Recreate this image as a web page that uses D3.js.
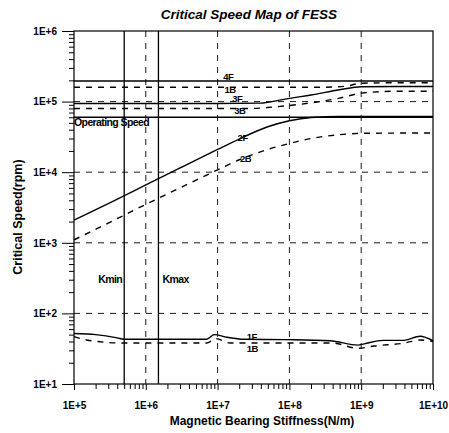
<!DOCTYPE html>
<html>
<head>
<meta charset="utf-8">
<script src="https://cdn.jsdelivr.net/npm/d3@7"></script>
<style>
 body { margin: 0; background: #fff; }
 svg { display: block; font-family: "Liberation Sans", Arial, sans-serif; }
</style>
</head>
<body>
<svg id="chart" width="449" height="433"></svg>
<script>
// tick labels
const xTicks = [1e5, 1e6, 1e7, 1e8, 1e9, 1e10];
const yTicks = [1e1, 1e2, 1e3, 1e4, 1e5, 1e6];

// reference lines
const operatingSpeed = 60000;
const kMin = 5e5;
const kMax = 1.5e6;

// modes: stiffness (N/m) and critical speed (rpm)
const k4F = [1e5, 1e10];
const rpm4F = [196000, 196000];

const k1Bu = [1e5, 1e7, 1e8, 3e8, 6e8, 1e9, 3e9, 1e10];
const rpm1Bu = [160000, 160000, 160000, 160000, 165000, 182000, 185000, 185000];

const k3F = [1e5, 1e7, 4e7, 7e7, 1e8, 2e8, 5e8, 1e9, 3e9, 1e10];
const rpm3F = [94000, 94000, 95000, 104000, 111000, 124000, 147000, 162000, 164000, 164000];

const k3B = [1e5, 1e7, 3e7, 6e7, 1e8, 2e8, 5e8, 1e9, 3e9, 1e10];
const rpm3B = [80000, 80000, 80000, 84000, 88000, 96000, 112000, 132000, 140000, 140000];

const k2F = [1e5, 3e5, 1e6, 3e6, 1e7, 2e7, 5e7, 1e8, 2e8, 5e8, 1e9, 1e10];
const rpm2F = [2100, 3600, 6600, 11500, 21000, 29500, 44000, 53500, 59500, 61500, 61500, 61500];

const k2B = [1e5, 3e5, 1e6, 3e6, 1e7, 2e7, 5e7, 1e8, 2e8, 5e8, 1e9, 1e10];
const rpm2B = [1100, 1900, 3500, 6000, 10800, 15000, 21000, 25500, 30000, 34000, 35500, 36000];

const k1F = [1e5, 2e5, 4e5, 5e5, 7e6, 9e6, 1.35e7, 2.3e7, 9e7, 3.7e8, 9e8, 1.1e9, 2e9, 3.8e9, 6.6e9, 1e10];
const rpm1F = [52, 50, 45, 43, 43, 50, 46, 43, 42.5, 41, 35.5, 37, 41.5, 41.5, 47.5, 41];

const k1B = [1e5, 1.5e5, 5e5, 7e6, 9.5e6, 1.5e7, 1e8, 4e8, 9e8, 1.5e9, 4e9, 6.6e9, 1e10];
const rpm1B = [47, 42, 38, 38, 44, 38, 38, 38, 32, 34.5, 38, 42, 40];

const modes = [
 { k: k4F, rpm: rpm4F, dash: null },
 { k: k1Bu, rpm: rpm1Bu, dash: "6,6" },
 { k: k3F, rpm: rpm3F, dash: null },
 { k: k3B, rpm: rpm3B, dash: "6,6" },
 { k: k2F, rpm: rpm2F, dash: null },
 { k: k2B, rpm: rpm2B, dash: "6,6" },
 { k: k1F, rpm: rpm1F, dash: null },
 { k: k1B, rpm: rpm1B, dash: "6,6" }
];

const modeLabels = [
 { text: "4F", k: 1.2e7, rpm: 203000 },
 { text: "1B", k: 1.25e7, rpm: 133000 },
 { text: "3F", k: 1.6e7, rpm: 98000 },
 { text: "3B", k: 1.7e7, rpm: 67000 },
 { text: "2F", k: 1.9e7, rpm: 27500 },
 { text: "2B", k: 2.05e7, rpm: 13900 },
 { text: "1F", k: 2.55e7, rpm: 42 },
 { text: "1B", k: 2.55e7, rpm: 28.5 }
];

const svg = d3.select("#chart");
const margin = { left: 74, right: 16, top: 31, bottom: 49 };
const W = 449, H = 433;

const x = d3.scaleLog().domain([1e5, 1e10]).range([margin.left, W - margin.right]);
const y = d3.scaleLog().domain([1e1, 1e6]).range([H - margin.bottom, margin.top]);

const fmt = d => "1E+" + Math.round(Math.log10(d));

// minor ticks 2..9 of each decade
const minors = (lo, hi) => {
 const out = [];
 for (let e = lo; e < hi; e++) for (let m = 2; m <= 9; m++) out.push(m * Math.pow(10, e));
 return out;
};

// grid
const grid = svg.append("g").attr("stroke", "#000").attr("stroke-width", 0.9)
 .attr("stroke-dasharray", "6,6");
grid.selectAll(".gx").data(xTicks.slice(1, -1)).join("line")
 .attr("x1", d => x(d)).attr("x2", d => x(d))
 .attr("y1", y.range()[1]).attr("y2", y.range()[0]);
grid.selectAll(".gy").data(yTicks.slice(1, -1)).join("line")
 .attr("x1", x.range()[0]).attr("x2", x.range()[1])
 .attr("y1", d => y(d)).attr("y2", d => y(d));

// frame
svg.append("rect")
 .attr("x", x.range()[0]).attr("y", y.range()[1])
 .attr("width", x.range()[1] - x.range()[0]).attr("height", y.range()[0] - y.range()[1])
 .attr("fill", "none").attr("stroke", "#000").attr("stroke-width", 1.2);

// axes
const xAxis = svg.append("g").attr("transform", `translate(0,${y.range()[0]})`);
xAxis.call(d3.axisBottom(x).tickValues(minors(5, 10)).tickFormat("").tickSize(5).tickSizeOuter(0));
xAxis.append("g").call(d3.axisBottom(x).tickValues(xTicks).tickFormat(fmt).tickSize(6).tickPadding(12).tickSizeOuter(0));
xAxis.selectAll(".domain").remove();
xAxis.selectAll("line").attr("stroke", "#000");

const yAxis = svg.append("g").attr("transform", `translate(${x.range()[0]},0)`);
yAxis.call(d3.axisLeft(y).tickValues(minors(1, 6)).tickFormat("").tickSize(5).tickSizeOuter(0));
yAxis.append("g").call(d3.axisLeft(y).tickValues(yTicks).tickFormat(fmt).tickSize(12).tickPadding(5).tickSizeOuter(0));
yAxis.selectAll(".domain").remove();
yAxis.selectAll("line").attr("stroke", "#000");

svg.selectAll(".tick text")
 .attr("font-family", "Liberation Sans, Arial, sans-serif")
 .attr("font-size", 10).attr("font-weight", "bold").attr("fill", "#000");

// operating speed and stiffness limits
svg.append("line")
 .attr("x1", x.range()[0]).attr("x2", x.range()[1])
 .attr("y1", y(operatingSpeed)).attr("y2", y(operatingSpeed))
 .attr("stroke", "#000").attr("stroke-width", 1.7);
svg.selectAll(".klim").data([kMin, kMax]).join("line")
 .attr("x1", d => x(d)).attr("x2", d => x(d))
 .attr("y1", y.range()[1]).attr("y2", y.range()[0])
 .attr("stroke", "#000").attr("stroke-width", 1.3);

// mode curves
const line = d3.line().x(d => x(d[0])).y(d => y(d[1])).curve(d3.curveMonotoneX);
svg.selectAll(".mode").data(modes).join("path")
 .attr("d", m => line(m.k.map((v, i) => [v, m.rpm[i]])))
 .attr("fill", "none").attr("stroke", "#000").attr("stroke-width", 1.4)
 .attr("stroke-dasharray", m => m.dash);

// labels
const lbl = svg.append("g").attr("font-weight", "bold").attr("fill", "#000");
lbl.selectAll("text").data(modeLabels).join("text")
 .attr("x", d => x(d.k)).attr("y", d => y(d.rpm))
 .attr("font-size", 9.5).attr("letter-spacing", -0.5)
 .text(d => d.text);

lbl.append("text").attr("x", x.range()[0]).attr("y", y(operatingSpeed) + 9)
 .attr("font-size", 10.5).attr("letter-spacing", -0.6).text("Operating Speed");
lbl.append("text").attr("x", x(kMin) - 26).attr("y", y(300) + 3)
 .attr("font-size", 10.5).attr("letter-spacing", -0.6).text("Kmin");
lbl.append("text").attr("x", x(kMax) + 4).attr("y", y(300) + 3)
 .attr("font-size", 10.5).attr("letter-spacing", -0.6).text("Kmax");

// titles
svg.append("text").attr("x", 249).attr("y", 19).attr("text-anchor", "middle")
 .attr("font-size", 13.5).attr("font-weight", "bold").attr("font-style", "italic")
 .text("Critical Speed Map of FESS");
svg.append("text").attr("x", 262).attr("y", 425).attr("text-anchor", "middle")
 .attr("font-size", 12).attr("font-weight", "bold")
 .text("Magnetic Bearing Stiffness(N/m)");
svg.append("text").attr("transform", "translate(22,217) rotate(-90)").attr("text-anchor", "middle")
 .attr("font-size", 12.5).attr("font-weight", "bold")
 .text("Critical Speed(rpm)");
</script>
</body>
</html>
